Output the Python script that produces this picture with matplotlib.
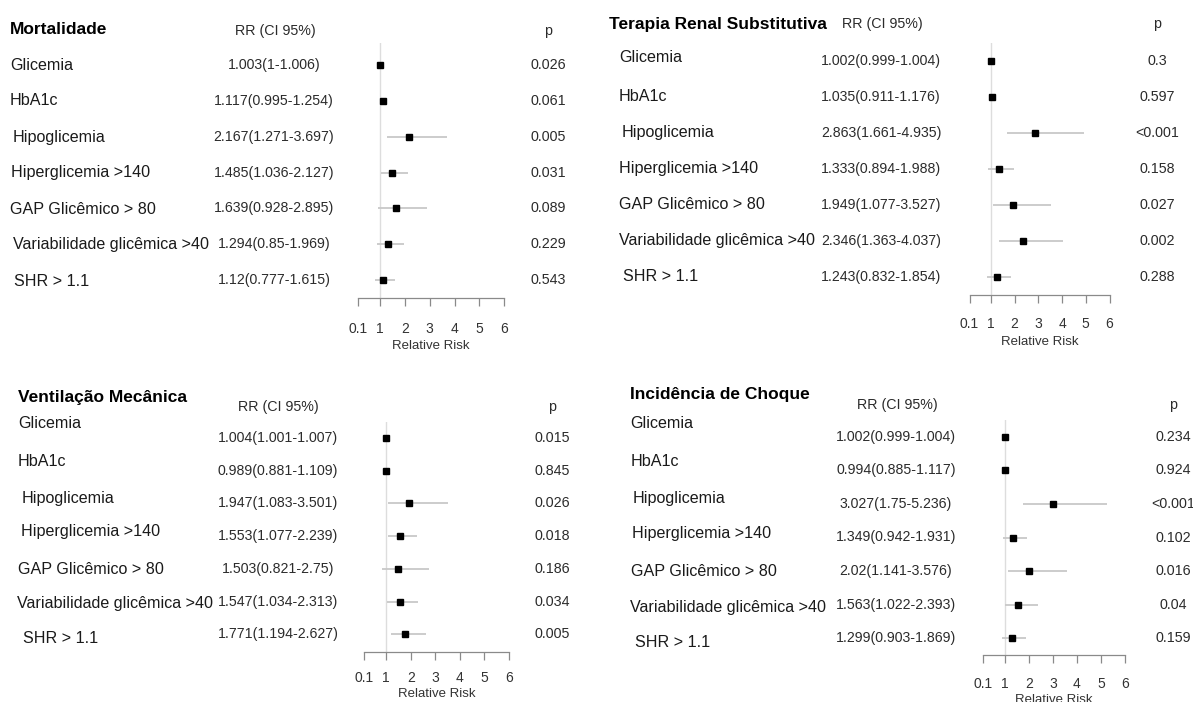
import numpy as np
import matplotlib
matplotlib.use("Agg")
import matplotlib.pyplot as plt
from matplotlib.transforms import blended_transform_factory

plt.rcParams['font.family'] = ['Liberation Sans', 'DejaVu Sans']

# === DATA ===
labels = ["Glicemia", "HbA1c", "Hipoglicemia", "Hiperglicemia >140",
          "GAP Glicêmico > 80", "Variabilidade glicêmica >40", "SHR > 1.1"]

mort_rr = [1.003, 1.117, 2.167, 1.485, 1.639, 1.294, 1.12]
mort_lo = [1, 0.995, 1.271, 1.036, 0.928, 0.85, 0.777]
mort_hi = [1.006, 1.254, 3.697, 2.127, 2.895, 1.969, 1.615]
mort_p = ["0.026", "0.061", "0.005", "0.031", "0.089", "0.229", "0.543"]

trs_rr = [1.002, 1.035, 2.863, 1.333, 1.949, 2.346, 1.243]
trs_lo = [0.999, 0.911, 1.661, 0.894, 1.077, 1.363, 0.832]
trs_hi = [1.004, 1.176, 4.935, 1.988, 3.527, 4.037, 1.854]
trs_p = ["0.3", "0.597", "<0.001", "0.158", "0.027", "0.002", "0.288"]

vm_rr = [1.004, 0.989, 1.947, 1.553, 1.503, 1.547, 1.771]
vm_lo = [1.001, 0.881, 1.083, 1.077, 0.821, 1.034, 1.194]
vm_hi = [1.007, 1.109, 3.501, 2.239, 2.75, 2.313, 2.627]
vm_p = ["0.015", "0.845", "0.026", "0.018", "0.186", "0.034", "0.005"]

choque_rr = [1.002, 0.994, 3.027, 1.349, 2.02, 1.563, 1.299]
choque_lo = [0.999, 0.885, 1.75, 0.942, 1.141, 1.022, 0.903]
choque_hi = [1.004, 1.117, 5.236, 1.931, 3.576, 2.393, 1.869]
choque_p = ["0.234", "0.924", "<0.001", "0.102", "0.016", "0.04", "0.159"]

xticks = [0.1, 1, 2, 3, 4, 5, 6]
xticklabels = ["0.1", "1", "2", "3", "4", "5", "6"]

# === LAYOUT (pixels) ===
W, H = 1193, 702


def fx(x):
    return x / W


def fy(y):
    return 1 - y / H


panels = [
    dict(title="Mortalidade", rr=mort_rr, lo=mort_lo, hi=mort_hi, p=mort_p,
         box=(358, 43, 504, 298), ylim=(7.5, 0.385),
         tick_pad=11, label_pad=3.5,
         title_xy=(10, 29), head_y=31,
         rr_x=275, val_x=274, p_x=548,
         lab_x=[10, 10, 13, 11, 10, 13, 14],
         lab_dy=[0, 0, 0.03, 0, 0.03, 0.02, 0.03]),
    dict(title="Terapia Renal Substitutiva", rr=trs_rr, lo=trs_lo, hi=trs_hi, p=trs_p,
         box=(969.5, 42.7, 1109.5, 295), ylim=(7.51, 0.5),
         tick_pad=10, label_pad=3.5,
         title_xy=(609, 24), head_y=24,
         rr_x=882, val_x=881, p_x=1157,
         lab_x=[619, 619, 622, 619, 619, 619, 623],
         lab_dy=[-0.08, 0, 0, 0, 0, 0, 0]),
    dict(title="Ventilação Mecânica", rr=vm_rr, lo=vm_lo, hi=vm_hi, p=vm_p,
         box=(364, 421.7, 509, 651.7), ylim=(7.53, 0.51),
         tick_pad=8, label_pad=2,
         title_xy=(18, 398), head_y=407,
         rr_x=278, val_x=278, p_x=552,
         lab_x=[18, 18, 22, 21, 18, 17, 23],
         lab_dy=[-0.44, -0.27, -0.16, -0.15, 0.01, 0.05, 0.12]),
    dict(title="Incidência de Choque", rr=choque_rr, lo=choque_lo, hi=choque_hi, p=choque_p,
         box=(983, 420, 1125, 655), ylim=(7.5, 0.5),
         tick_pad=10, label_pad=2,
         title_xy=(630, 395), head_y=405,
         rr_x=897, val_x=896, p_x=1173,
         lab_x=[630, 631, 633, 632, 631, 630, 635],
         lab_dy=[-0.41, -0.27, -0.15, -0.13, 0, 0.08, 0.14]),
]

fig = plt.figure(figsize=(W / 100, H / 100), dpi=100)

for pn in panels:
    x0, y0, x1, y1 = pn["box"]
    ax = fig.add_axes([fx(x0), fy(y1), (x1 - x0) / W, (y1 - y0) / H])
    rows = np.arange(1, len(labels) + 1)

    ax.set_xlim(0.1, 6)
    ax.set_ylim(*pn["ylim"])
    ax.axvline(1, color="#dddddd", lw=1, zorder=0)
    ax.hlines(rows, pn["lo"], pn["hi"], color="#c8c8c8", lw=1.3, zorder=1)
    ax.plot(pn["rr"], rows, "s", color="black", ms=4.8, zorder=2)

    ax.set_xticks(xticks)
    ax.set_xticklabels(xticklabels)
    ax.set_yticks([])
    for side in ["left", "top", "right"]:
        ax.spines[side].set_visible(False)
    ax.spines["bottom"].set_color("#8a8a8a")
    ax.spines["bottom"].set_linewidth(0.9)
    ax.tick_params(axis="x", colors="#8a8a8a", labelcolor="#333333",
                   length=6, width=0.9, labelsize=10, pad=pn["tick_pad"])
    ax.set_xlabel("Relative Risk", fontsize=9.5, color="#333333",
                  labelpad=pn["label_pad"])
    ax.patch.set_alpha(0)

    # text columns follow the rows of the forest axes
    trans = blended_transform_factory(fig.transFigure, ax.transData)
    for i, r in enumerate(rows):
        fig.text(fx(pn["lab_x"][i]), r + pn["lab_dy"][i], labels[i], transform=trans,
                 ha="left", va="center", fontsize=11.6, color="#1a1a1a")
        val = f"{pn['rr'][i]:g}({pn['lo'][i]:g}-{pn['hi'][i]:g})"
        fig.text(fx(pn["val_x"]), r, val, transform=trans,
                 ha="center", va="center", fontsize=10.2, color="#2b2b2b")
        fig.text(fx(pn["p_x"]), r, pn["p"][i], transform=trans,
                 ha="center", va="center", fontsize=10.3, color="#2b2b2b")

    tx, ty = pn["title_xy"]
    fig.text(fx(tx), fy(ty), pn["title"], ha="left", va="center",
             fontsize=12.5, fontweight="bold", color="black")
    fig.text(fx(pn["rr_x"]), fy(pn["head_y"]), "RR (CI 95%)", ha="center", va="center",
             fontsize=10.3, color="#2b2b2b")
    fig.text(fx(pn["p_x"]), fy(pn["head_y"]), "p", ha="center", va="center",
             fontsize=10.3, color="#2b2b2b")

fig.savefig("out.png", dpi=100, facecolor="white")
